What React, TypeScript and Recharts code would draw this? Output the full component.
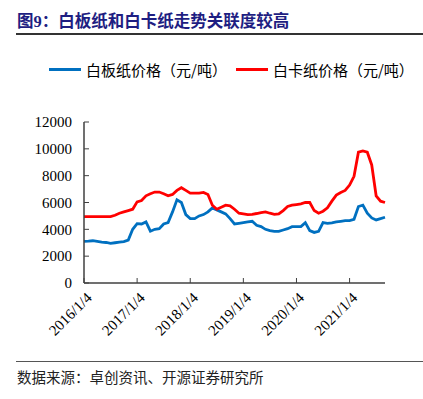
import React from "react";
import { LineChart, Line, XAxis, YAxis, Legend } from "recharts";

const years = [2016, 2017, 2018, 2019, 2020, 2021];
const lastMonth = 9;

// 白板纸价格（元/吨）, monthly
const whiteBoard = [
  3100, 3120, 3150, 3100, 3050, 3020, 2950, 3000, 3050, 3080, 3200, 4000,
  4420, 4400, 4550, 3860, 4000, 4050, 4400, 4500, 5300, 6200, 6000, 5100,
  4800, 4800, 5000, 5100, 5300, 5600, 5450, 5300, 5150, 4800, 4400, 4450,
  4500, 4550, 4600, 4300, 4200, 4000, 3900, 3850, 3850, 3950, 4050, 4200,
  4200, 4200, 4500, 3900, 3770, 3850, 4500, 4450, 4480, 4550, 4600, 4650,
  4650, 4750, 5700, 5800, 5200, 4850, 4700, 4800, 4900,
];

// 白卡纸价格（元/吨）, monthly
const whiteCard = [
  4950, 4950, 4950, 4950, 4950, 4950, 4950, 5050, 5200, 5300, 5400, 5500,
  6050, 6150, 6500, 6650, 6780, 6780, 6650, 6500, 6600, 6900, 7100, 6900,
  6700, 6700, 6700, 6750, 6600, 5800, 5500, 5650, 5800, 5750, 5500, 5200,
  5150, 5100, 5120, 5180, 5250, 5300, 5200, 5120, 5150, 5400, 5700, 5800,
  5850, 5900, 6000, 6000, 5400, 5200, 5350, 5600, 6100, 6550, 6750, 6900,
  7300, 7950, 9750, 9850, 9750, 8800, 6500, 6100, 6000,
];

const yTicks = [0, 2000, 4000, 6000, 8000, 10000, 12000];
const seriesOrder = ["whiteBoard", "whiteCard"];

const categories: string[] = [];
years.forEach((y) => {
  for (let m = 1; m <= 12; m++) {
    if (y === 2021 && m > lastMonth) break;
    categories.push(m === 1 ? `${y}/1/4` : `${y}/${m}/1`);
  }
});

const data = categories.map((d, i) => ({
  date: d,
  whiteBoard: whiteBoard[i],
  whiteCard: whiteCard[i],
}));

const serif = "'DejaVu Serif', 'Liberation Serif', serif";
const cjk = "'Noto Sans CJK SC', 'Noto Sans', sans-serif";

const XTick = (props: any) => {
  const { x, y, payload } = props;
  const ax = x + 5;
  const ay = y + 7;
  return (
    <text
      x={ax}
      y={ay}
      transform={`rotate(-45, ${ax}, ${ay})`}
      textAnchor="end"
      fontFamily="Liberation Serif"
      fontSize={15}
      fill="#000"
      dy="0.35em"
    >
      {payload.value}
    </text>
  );
};

const YTick = (props: any) => {
  const { x, y, payload } = props;
  return (
    <text
      x={x}
      y={y}
      textAnchor="end"
      fontFamily="Liberation Serif"
      fontSize={15}
      fill="#000"
      dy="0.35em"
    >
      {payload.value}
    </text>
  );
};

const renderLegend = (props: any) => {
  const payload = [...(props.payload || [])].sort(
    (a: any, b: any) => seriesOrder.indexOf(a.dataKey) - seriesOrder.indexOf(b.dataKey)
  );
  return (
    <div style={{ display: "flex", alignItems: "center", fontFamily: cjk, fontSize: 15, color: "#000" }}>
      {payload.map((p: any, i: number) => (
        <div key={i} style={{ display: "flex", alignItems: "center", marginRight: i === 0 ? 9 : 0 }}>
          <div style={{ width: 32, height: 3, background: p.color, marginRight: 5 }} />
          <span>{p.value}</span>
        </div>
      ))}
    </div>
  );
};

export default function App() {
  return (
    <div style={{ position: "fixed", left: 0, top: 0, width: 423, height: 399, background: "#fff", overflow: "hidden" }}>
      <div
        style={{
          position: "absolute",
          left: 17,
          top: 11,
          fontFamily: "'Liberation Serif', 'Noto Sans CJK SC', serif",
          fontWeight: "bold",
          fontSize: 16.5,
          color: "#1e1e82",
          whiteSpace: "nowrap",
          lineHeight: "22px",
        }}
      >
        图9：白板纸和白卡纸走势关联度较高
      </div>
      <div style={{ position: "absolute", left: 16, top: 33, width: 407, height: 2, background: "#333" }} />
      <div style={{ position: "absolute", left: 0, top: 0 }}>
        <LineChart
          width={423}
          height={399}
          data={data}
          margin={{ top: 101, right: 38, bottom: 56, left: 0 }}
        >
          <XAxis
            dataKey="date"
            interval={11}
            height={60}
            tick={<XTick />}
            tickSize={-5}
            tickMargin={10}
            axisLine={{ stroke: "#404040", strokeWidth: 1.5 }}
            tickLine={{ stroke: "#404040" }}
          />
          <YAxis
            width={84}
            domain={[0, 12000]}
            ticks={yTicks}
            interval={0}
            tickSize={-5}
            tickMargin={17}
            axisLine={{ stroke: "#404040", strokeWidth: 1.5 }}
            tickLine={{ stroke: "#404040" }}
            tick={<YTick />}
          />
          <Legend
            verticalAlign="top"
            align="left"
            itemSorter={null as any}
            content={renderLegend}
            wrapperStyle={{ position: "absolute", top: 59, left: 49, width: 380 }}
          />
          <Line
            type="linear"
            dataKey="whiteBoard"
            name="白板纸价格（元/吨）"
            stroke="#0070c0"
            strokeWidth={2.8}
            dot={false}
            isAnimationActive={false}
          />
          <Line
            type="linear"
            dataKey="whiteCard"
            name="白卡纸价格（元/吨）"
            stroke="#ff0000"
            strokeWidth={2.8}
            dot={false}
            isAnimationActive={false}
          />
        </LineChart>
      </div>
      <div style={{ position: "absolute", left: 16, top: 361, width: 407, height: 1, background: "#555" }} />
      <div
        style={{
          position: "absolute",
          left: 17,
          top: 367,
          fontFamily: cjk,
          fontSize: 14.5,
          color: "#222",
          whiteSpace: "nowrap",
          lineHeight: "20px",
        }}
      >
        数据来源：卓创资讯、开源证券研究所
      </div>
    </div>
  );
}
